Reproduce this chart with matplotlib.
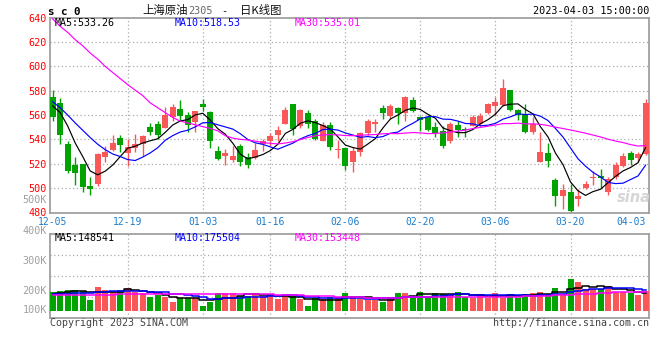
'''
    gráfico de velas diario del contrato sc2305 (estilo sina finance)
'''

import matplotlib
matplotlib.use('Agg')
import matplotlib.pyplot as plt
import numpy as np
import pandas as pd

plt.rcParams['font.family'] = ['DejaVu Sans Mono', 'Noto Sans CJK SC']

# fechas que se muestran en el eje x (índice de la vela)
tick_idx = [0, 10, 20, 29, 39, 49, 59, 69, 79]
tick_labels = ['12-05', '12-19', '01-03', '01-16', '02-06', '02-20', '03-06', '03-20', '04-03']

# velas diarias
open_ = [575.1, 569.7, 536.2, 519.0, 519.5, 502.0, 503.5, 525.8, 531.3, 540.8,
         528.8, 532.9, 536.2, 550.3, 552.5, 549.3, 558.5, 564.8, 560.0, 553.9,
         569.1, 562.6, 530.8, 526.7, 523.1, 534.3, 525.6, 524.5, 536.2, 538.4,
         543.8, 552.5, 568.8, 550.6, 562.0, 555.0, 538.9, 551.7, 531.6, 532.9,
         521.8, 529.4, 544.9, 553.0, 565.6, 559.3, 565.6, 561.5, 572.1, 558.0,
         558.0, 549.8, 546.5, 538.9, 551.7, 548.4, 551.2, 552.5, 561.5, 567.5,
         568.0, 580.3, 563.9, 560.7, 545.7, 521.8, 528.8, 506.8, 493.2, 497.0,
         491.3, 500.0, 508.2, 509.5, 496.7, 509.0, 518.5, 528.8, 524.8, 528.1]
high = [581.0, 574.3, 538.9, 525.3, 519.5, 509.0, 528.8, 534.3, 543.5, 543.5,
        540.3, 544.4, 543.8, 553.3, 555.2, 566.7, 569.1, 572.1, 562.6, 563.7,
        573.5, 563.4, 534.6, 532.0, 534.3, 536.2, 528.8, 537.0, 540.3, 545.2,
        551.2, 566.7, 568.8, 565.3, 563.9, 557.1, 553.9, 553.9, 539.7, 534.0,
        533.5, 546.3, 557.1, 556.6, 568.0, 568.8, 566.7, 575.6, 574.8, 559.3,
        560.0, 554.4, 550.6, 553.9, 555.2, 549.8, 560.0, 562.0, 570.2, 575.1,
        589.8, 581.0, 565.3, 568.8, 558.0, 546.0, 537.0, 508.4, 503.5, 503.5,
        498.9, 505.4, 514.4, 515.8, 509.0, 521.2, 528.8, 530.8, 529.4, 573.0]
low = [555.2, 536.2, 512.5, 502.2, 496.5, 494.6, 501.6, 521.8, 530.2, 529.4,
       518.5, 529.4, 526.7, 544.0, 540.5, 549.0, 555.2, 555.7, 546.3, 546.3,
       563.1, 533.0, 522.9, 519.1, 521.8, 518.5, 516.3, 523.9, 530.8, 534.3,
       538.9, 552.5, 543.8, 549.3, 549.3, 539.7, 538.9, 531.6, 524.8, 515.2,
       513.4, 526.7, 543.5, 545.7, 556.6, 557.1, 552.5, 555.2, 562.6, 547.0,
       546.5, 542.2, 533.0, 537.0, 541.6, 541.6, 550.6, 551.2, 560.7, 559.3,
       567.5, 563.4, 556.0, 545.2, 544.3, 521.8, 517.1, 485.3, 482.6, 480.5,
       485.0, 498.9, 502.2, 500.3, 494.0, 507.7, 517.1, 519.3, 521.2, 527.2]
close = [558.5, 543.8, 514.4, 512.0, 500.8, 499.0, 528.0, 529.7, 537.0, 535.6,
         533.5, 536.2, 542.7, 546.3, 543.8, 560.0, 566.4, 559.3, 551.7, 563.1,
         566.9, 538.4, 524.0, 528.8, 526.1, 521.8, 519.3, 531.6, 538.9, 542.4,
         547.6, 563.9, 548.4, 563.9, 552.5, 540.3, 551.7, 534.0, 532.1, 518.5,
         530.2, 545.2, 555.0, 554.4, 562.0, 567.2, 561.5, 574.6, 563.7, 555.7,
         547.6, 545.2, 534.8, 552.5, 547.6, 547.6, 558.0, 559.0, 568.8, 570.5,
         582.4, 564.2, 560.0, 545.7, 552.5, 529.4, 522.6, 493.2, 498.6, 481.0,
         493.2, 503.5, 509.0, 508.2, 507.7, 519.3, 526.1, 523.1, 528.1, 569.7]

# volumen en miles de lotes
volume = [156, 164, 173, 170, 162, 88, 195, 170, 156, 170,
          186, 156, 142, 112, 129, 115, 74, 107, 107, 107,
          38, 68, 145, 145, 145, 121, 121, 145, 121, 121,
          96, 121, 121, 96, 38, 107, 93, 110, 110, 145,
          110, 96, 88, 88, 71, 110, 145, 145, 121, 153,
          115, 145, 137, 137, 153, 115, 107, 137, 107, 145,
          107, 137, 107, 137, 145, 153, 137, 186, 137, 260,
          232, 180, 180, 180, 206, 153, 153, 145, 129, 162]

# primeros puntos de las medias (dependen de días anteriores)
ma5_head = [567.5, 562.0, 551.0, 537.0]
ma10_head = [571.0, 566.0, 560.0, 553.5, 547.5, 541.5, 536.0, 531.5, 528.0]
ma30_head = [639.0, 633.0, 628.0, 622.0, 617.0, 611.0, 606.0, 600.0, 595.0, 590.0,
             585.0, 580.5, 576.0, 570.0, 566.0, 562.0, 558.0, 555.0, 553.5, 552.0,
             550.5, 549.0, 547.0, 543.0, 541.0, 540.0, 539.5, 538.5, 537.5]
vol_ma5_head = [140, 145, 150, 158]
vol_ma10_head = [137, 138, 140, 142, 145, 148, 152, 155, 158]
vol_ma30_head = [127, 127, 127, 127, 127, 127, 127, 127, 130, 138,
                 138, 138, 138, 138, 138, 138, 138, 138, 138, 138,
                 136, 134, 134, 134, 134, 134, 134, 134, 134]

ROJO = '#fa5858'
VERDE = '#00a300'
GRIS = '#a0a0a0'
W, H = 660, 360


def px(x, y):
    """Convierte una posición en píxeles (origen arriba a la izquierda) a fracción de figura."""
    return x / W, 1 - y / H


def media_movil(valores, n, cabeza):
    """Media móvil simple; los primeros valores vienen del gráfico original."""
    serie = pd.Series(valores, dtype=float).rolling(n).mean()
    serie.iloc[:len(cabeza)] = cabeza
    return serie.to_numpy()


def rejilla(ax, ys_axes=None, ys_data=None):
    estilo = dict(color='#aaaaaa', lw=0.9, linestyle=(0, (1, 2)), zorder=0)
    for t in tick_idx[1:-1]:
        ax.axvline(t, **estilo)
    if ys_data is not None:
        for y in ys_data:
            ax.axhline(y, **estilo)
    if ys_axes is not None:
        for y in ys_axes:
            ax.plot([0, 1], [y, y], transform=ax.transAxes, **estilo)


def bordes(ax):
    for s in ax.spines.values():
        s.set_color(GRIS)
        s.set_linewidth(1.3)


fig = plt.figure(figsize=(W / 100, H / 100), dpi=100)
ax = fig.add_axes([50 / W, (H - 213.3) / H, 599.3 / W, 195.5 / H])
axv = fig.add_axes([50 / W, (H - 318.3) / H, 599.3 / W, 84 / H])

x = np.arange(len(close))
o = np.array(open_)
c = np.array(close)
colores = np.where(c >= o, ROJO, VERDE)

# velas
ax.vlines(x, low, high, colors=colores, lw=1, zorder=2)
ax.bar(x, np.maximum(np.abs(c - o), 0.7), bottom=np.minimum(o, c), width=0.8,
       color=colores, linewidth=0, zorder=3)
ax.plot(x, media_movil(close, 5, ma5_head), color='black', lw=0.85, zorder=4)
ax.plot(x, media_movil(close, 10, ma10_head), color='#0000ff', lw=0.85, zorder=4)
ax.plot(x, media_movil(close, 30, ma30_head), color='#ff00ff', lw=0.85, zorder=4)

ax.set_xlim(-0.36, 79.5)
ax.set_ylim(479.2, 640)
ax.set_yticks(range(480, 641, 20))
ax.set_xticks(tick_idx, tick_labels)
ax.get_xticklabels()[-1].set_ha('right')
ax.tick_params(axis='y', length=0, pad=2.2, labelcolor='red', labelsize=7.3)
ax.tick_params(axis='x', length=0, pad=3, labelcolor='#1a7ccf', labelsize=7)
rejilla(ax, ys_data=range(500, 621, 20))
bordes(ax)

# volumen
axv.bar(x, volume, width=0.8, color=colores, linewidth=0, zorder=3)
axv.plot(x, media_movil(volume, 5, vol_ma5_head), color='black', lw=1.1,
         drawstyle='steps-mid', zorder=4)
axv.plot(x, media_movil(volume, 10, vol_ma10_head), color='#0000ff', lw=1.1,
         drawstyle='steps-mid', zorder=4)
axv.plot(x, media_movil(volume, 30, vol_ma30_head), color='#ff00ff', lw=1.1,
         drawstyle='steps-mid', zorder=4)
axv.set_xlim(-0.36, 79.5)
axv.set_ylim(-62.5, 628)
axv.set_xticks([])
axv.set_yticks([])
rejilla(axv, ys_axes=[0.25, 0.5, 0.75])
bordes(axv)

# etiquetas del eje de volumen
for etiqueta, y in [('500K', 200), ('400K', 230.7), ('300K', 260.7), ('200K', 290.7), ('100K', 310.3)]:
    fig.text(*px(47, y), etiqueta, ha='right', va='center', fontsize=7.3, color=GRIS)

# textos de medias
fig.text(*px(55, 23.5), 'MA5:533.26', va='center', fontsize=7.2, color='black')
fig.text(*px(175, 23.5), 'MA10:518.53', va='center', fontsize=7.2, color='#0000ff')
fig.text(*px(295, 23.5), 'MA30:535.01', va='center', fontsize=7.2, color='#ff00ff')
fig.text(*px(55, 238.3), 'MA5:148541', va='center', fontsize=7.2, color='black')
fig.text(*px(175, 238.3), 'MA10:175504', va='center', fontsize=7.2, color='#0000ff')
fig.text(*px(295, 238.3), 'MA30:153448', va='center', fontsize=7.2, color='#ff00ff')

# cabecera
cjk = ['Noto Sans CJK SC', 'DejaVu Sans']
fig.text(*px(48, 12), 's c 0', va='center', fontsize=7.8, weight='bold', color='black')
fig.text(*px(142, 10.7), '上海原油', va='center', fontsize=8.2, family=cjk, color='#111111')
fig.text(*px(188, 11.5), '2305', va='center', fontsize=7.3, color='#666666')
fig.text(*px(221, 11.5), '-', va='center', fontsize=7.3, color='#111111')
fig.text(*px(240, 10.7), '日K线图', va='center', fontsize=8.2, family=cjk, color='#111111')
fig.text(*px(649, 11.5), '2023-04-03 15:00:00', ha='right', va='center', fontsize=7.3, color='black')

# pie
fig.text(*px(50, 323.5), 'Copyright 2023 SINA.COM', va='center', fontsize=7.2, color='#444444')
fig.text(*px(649, 323.5), 'http://finance.sina.com.cn', ha='right', va='center', fontsize=7.2,
         color='#444444')
fig.text(*px(634, 197), 'sina', ha='center', va='center', fontsize=10.5, style='italic',
         weight='bold', family='DejaVu Sans', color='#d6d6d6', zorder=1)

fig.savefig('out.png', dpi=100)
